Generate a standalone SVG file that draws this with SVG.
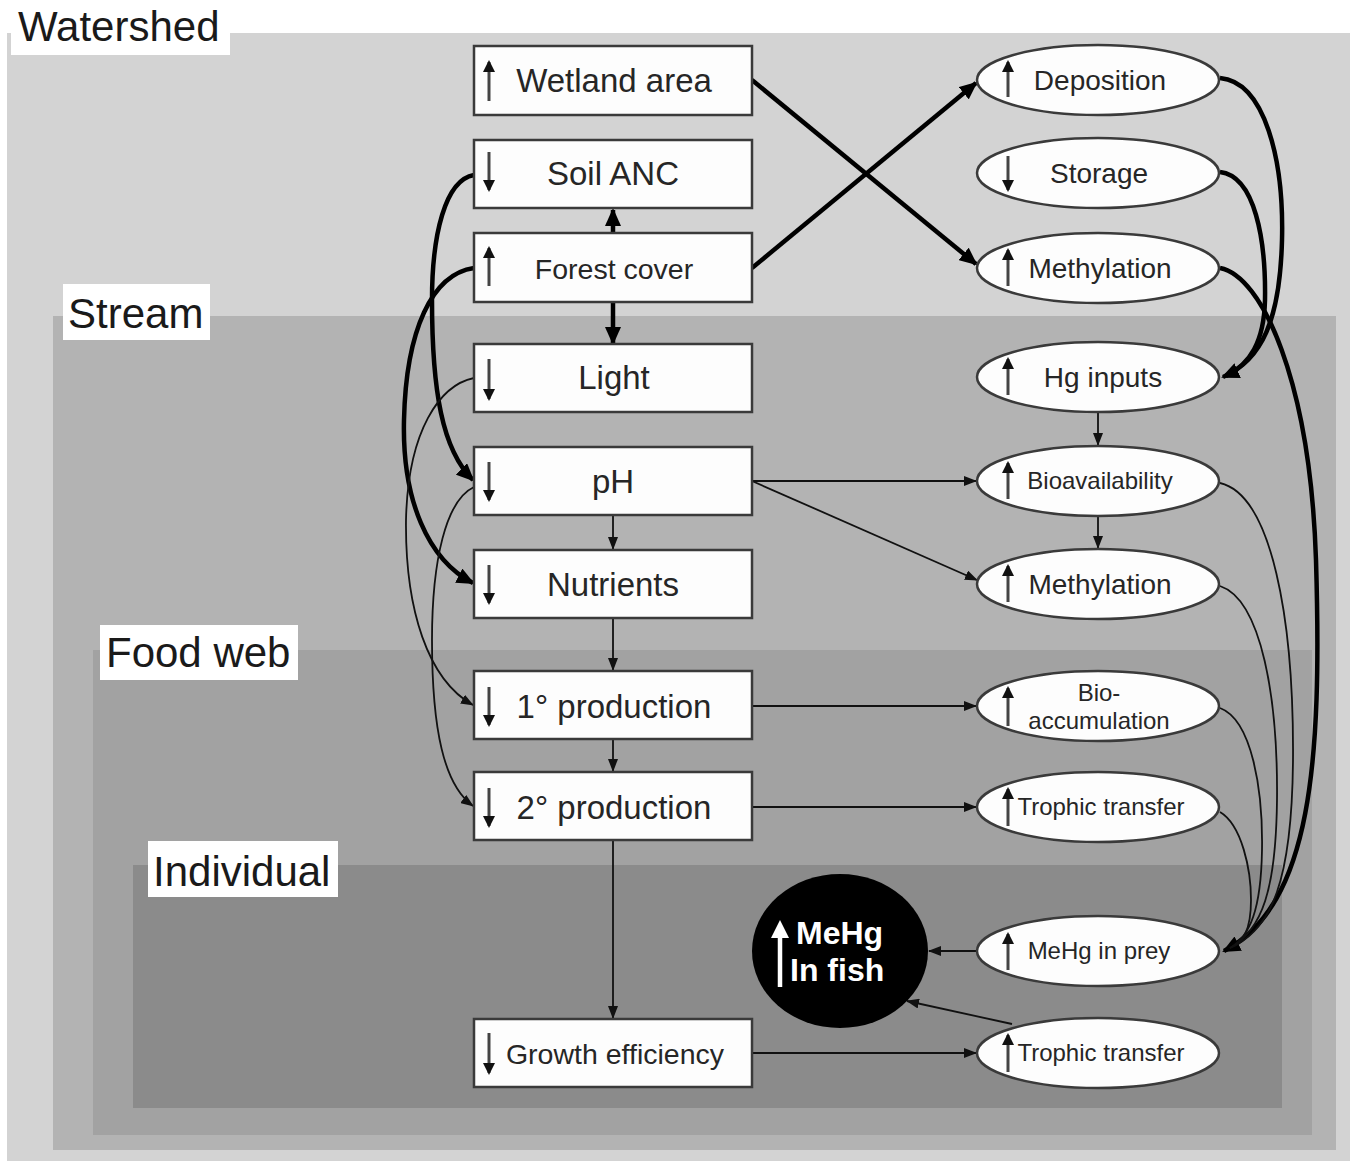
<svg xmlns="http://www.w3.org/2000/svg" width="1357" height="1161" viewBox="0 0 1357 1161">
<defs>
<style>
.lbl{font-family:"Liberation Sans",Arial,sans-serif;font-size:42px;fill:#1a1a1a}
.lblbox{fill:#fff}
.box{fill:#fdfdfd;stroke:#3a3a3a;stroke-width:2.5}
.ell{fill:#fdfdfd;stroke:#3a3a3a;stroke-width:2.5}
.t{font-family:"Liberation Sans",Arial,sans-serif;fill:#262626;text-anchor:middle}
.b33{font-size:33px}
.b29{font-size:28.5px}
.e28{font-size:28px}
.e24{font-size:24px}
.ia{stroke:#444;stroke-width:3;fill:none;marker-end:url(#ms)}
.thick{stroke:#000;stroke-width:4.5;fill:none}
.thin{stroke:#111;stroke-width:1.8;fill:none}
.ak{marker-end:url(#mk)}
.at{marker-end:url(#mt)}
.fish{font-family:"Liberation Sans",Arial,sans-serif;font-weight:bold;font-size:32px;fill:#fff}
</style>
<marker id="mk" markerUnits="userSpaceOnUse" markerWidth="18" markerHeight="16" refX="16" refY="8" orient="auto"><path d="M0,0 L18,8 L0,16 z" fill="#000"/></marker>
<marker id="mt" markerUnits="userSpaceOnUse" markerWidth="13" markerHeight="10" refX="12" refY="5" orient="auto"><path d="M0,0 L13,5 L0,10 z" fill="#111"/></marker>
<marker id="ms" markerUnits="userSpaceOnUse" markerWidth="12" markerHeight="12" refX="10" refY="6" orient="auto"><path d="M0,0 L12,6 L0,12 z" fill="#111"/></marker>
</defs>
<rect x="0" y="0" width="1357" height="1161" fill="#fff"/>
<g id="regions">
<rect id="watershed" x="7" y="33" width="1343" height="1128" fill="#d3d3d3"/>
<rect id="stream" x="53" y="316" width="1283" height="834" fill="#b3b3b3"/>
<rect id="foodweb" x="93" y="650" width="1219" height="485" fill="#a2a2a2"/>
<rect id="individual" x="133" y="865" width="1149" height="243" fill="#8b8b8b"/>
<rect class="lblbox" x="11" y="6" width="219" height="49"/>
<text class="lbl" x="18" y="41">Watershed</text>
<rect class="lblbox" x="63" y="284" width="147" height="56"/>
<text class="lbl" x="68" y="328">Stream</text>
<rect class="lblbox" x="100" y="625" width="198" height="55"/>
<text class="lbl" x="106" y="667">Food web</text>
<rect class="lblbox" x="148" y="841" width="190" height="56"/>
<text class="lbl" x="153" y="886">Individual</text>
</g>
<g id="connectors">
<line class="thick ak" x1="752" y1="80" x2="976" y2="264"/>
<line class="thick ak" x1="752" y1="268" x2="976" y2="83"/>
<line class="thick ak" x1="613" y1="233" x2="613" y2="210"/>
<line class="thick ak" x1="613" y1="302" x2="613" y2="343"/>
<path class="thick ak" d="M474,175 C445,180 432,235 432,300 C432,390 442,450 473,480"/>
<path class="thick ak" d="M474,268 C432,274 406,330 404,420 C402,500 428,560 473,583"/>
<path class="thin at" d="M474,378 C440,385 408,430 406,520 C405,610 428,680 473,705"/>
<path class="thin at" d="M474,487 C446,500 432,560 432,640 C432,730 444,785 473,806"/>
<line class="thin at" x1="613" y1="515" x2="613" y2="549"/>
<line class="thin at" x1="613" y1="618" x2="613" y2="670"/>
<line class="thin at" x1="613" y1="739" x2="613" y2="771"/>
<line class="thin at" x1="613" y1="840" x2="613" y2="1018"/>
<line class="thin at" x1="752" y1="481" x2="976" y2="481"/>
<line class="thin at" x1="752" y1="481" x2="977" y2="580"/>
<line class="thin at" x1="752" y1="706" x2="976" y2="706"/>
<line class="thin at" x1="752" y1="807" x2="976" y2="807"/>
<line class="thin at" x1="752" y1="1053" x2="976" y2="1053"/>
<line class="thin at" x1="1098" y1="412" x2="1098" y2="445"/>
<line class="thin at" x1="1098" y1="516" x2="1098" y2="548"/>
<line class="thin at" x1="977" y1="951" x2="929" y2="951"/>
<line class="thin at" x1="1012" y1="1024" x2="907" y2="1001"/>
<path class="thick ak" d="M1220,78 C1265,82 1284,160 1282,240 C1280,320 1262,360 1223,377"/>
<path class="thick" d="M1220,172 C1255,176 1266,240 1265,300 C1264,342 1250,364 1226,376"/>
<path class="thick ak" d="M1220,268 C1262,276 1310,380 1316,560 C1322,760 1312,905 1224,951"/>
<path class="thin" d="M1220,483 C1272,495 1294,620 1293,760 C1292,880 1272,930 1230,948"/>
<path class="thin" d="M1220,586 C1262,600 1278,700 1277,800 C1276,890 1262,930 1230,948"/>
<path class="thin" d="M1220,708 C1252,720 1263,790 1262,850 C1261,910 1250,936 1230,948"/>
<path class="thin" d="M1220,812 C1242,825 1251,870 1251,900 C1251,930 1243,943 1230,948"/>
</g>
<g id="n-wetland"><rect class="box" x="474" y="46" width="278" height="69"/><line class="ia" x1="489" y1="101" x2="489" y2="62"/><text class="t b33" x="614" y="92">Wetland area</text></g>
<g id="n-soilanc"><rect class="box" x="474" y="140" width="278" height="68"/><line class="ia" x1="489" y1="152" x2="489" y2="190"/><text class="t b33" x="613" y="185">Soil ANC</text></g>
<g id="n-forest"><rect class="box" x="474" y="233" width="278" height="69"/><line class="ia" x1="489" y1="286" x2="489" y2="248"/><text class="t b29" x="614" y="279">Forest cover</text></g>
<g id="n-light"><rect class="box" x="474" y="344" width="278" height="68"/><line class="ia" x1="489" y1="359" x2="489" y2="399"/><text class="t b33" x="614" y="389">Light</text></g>
<g id="n-ph"><rect class="box" x="474" y="447" width="278" height="68"/><line class="ia" x1="489" y1="462" x2="489" y2="500"/><text class="t b33" x="613" y="493">pH</text></g>
<g id="n-nutrients"><rect class="box" x="474" y="550" width="278" height="68"/><line class="ia" x1="489" y1="565" x2="489" y2="603"/><text class="t b33" x="613" y="596">Nutrients</text></g>
<g id="n-prod1"><rect class="box" x="474" y="671" width="278" height="68"/><line class="ia" x1="489" y1="687" x2="489" y2="725"/><text class="t b33" x="614" y="718">1° production</text></g>
<g id="n-prod2"><rect class="box" x="474" y="772" width="278" height="68"/><line class="ia" x1="489" y1="788" x2="489" y2="826"/><text class="t b33" x="614" y="819">2° production</text></g>
<g id="n-growth"><rect class="box" x="474" y="1019" width="278" height="68"/><line class="ia" x1="489" y1="1033" x2="489" y2="1073"/><text class="t b29" x="615" y="1064">Growth efficiency</text></g>
<g id="n-deposition"><ellipse class="ell" cx="1098" cy="80" rx="121" ry="35"/><line class="ia" x1="1008" y1="97" x2="1008" y2="62"/><text class="t e28" x="1100" y="90">Deposition</text></g>
<g id="n-storage"><ellipse class="ell" cx="1098" cy="173" rx="121" ry="35"/><line class="ia" x1="1008" y1="156" x2="1008" y2="190"/><text class="t e28" x="1099" y="183">Storage</text></g>
<g id="n-methyl1"><ellipse class="ell" cx="1098" cy="268" rx="121" ry="35"/><line class="ia" x1="1008" y1="286" x2="1008" y2="250"/><text class="t e28" x="1100" y="278">Methylation</text></g>
<g id="n-hginputs"><ellipse class="ell" cx="1098" cy="377" rx="121" ry="35"/><line class="ia" x1="1008" y1="395" x2="1008" y2="359"/><text class="t e28" x="1103" y="387">Hg inputs</text></g>
<g id="n-bioavail"><ellipse class="ell" cx="1098" cy="481" rx="121" ry="35"/><line class="ia" x1="1008" y1="499" x2="1008" y2="463"/><text class="t e24" x="1100" y="489">Bioavailability</text></g>
<g id="n-methyl2"><ellipse class="ell" cx="1098" cy="584" rx="121" ry="35"/><line class="ia" x1="1008" y1="602" x2="1008" y2="566"/><text class="t e28" x="1100" y="594">Methylation</text></g>
<g id="n-bioacc"><ellipse class="ell" cx="1098" cy="706" rx="121" ry="35"/><line class="ia" x1="1008" y1="726" x2="1008" y2="688"/><text class="t e24" x="1099" y="701">Bio-</text><text class="t e24" x="1099" y="729">accumulation</text></g>
<g id="n-trophic1"><ellipse class="ell" cx="1098" cy="807" rx="121" ry="35"/><line class="ia" x1="1008" y1="826" x2="1008" y2="789"/><text class="t e24" x="1101" y="815">Trophic transfer</text></g>
<g id="n-prey"><ellipse class="ell" cx="1098" cy="951" rx="121" ry="35"/><line class="ia" x1="1008" y1="970" x2="1008" y2="934"/><text class="t e24" x="1099" y="959">MeHg in prey</text></g>
<g id="n-trophic2"><ellipse class="ell" cx="1098" cy="1053" rx="121" ry="35"/><line class="ia" x1="1008" y1="1072" x2="1008" y2="1035"/><text class="t e24" x="1101" y="1061">Trophic transfer</text></g>
<g id="n-fish"><ellipse cx="840" cy="951" rx="88" ry="77" fill="#000"/><line x1="780" y1="987" x2="780" y2="935" stroke="#fff" stroke-width="4.5"/><path d="M771,938 L780,920 L789,938 z" fill="#fff"/><text class="fish" x="796" y="944">MeHg</text><text class="fish" x="790" y="981">In fish</text></g>
</svg>
